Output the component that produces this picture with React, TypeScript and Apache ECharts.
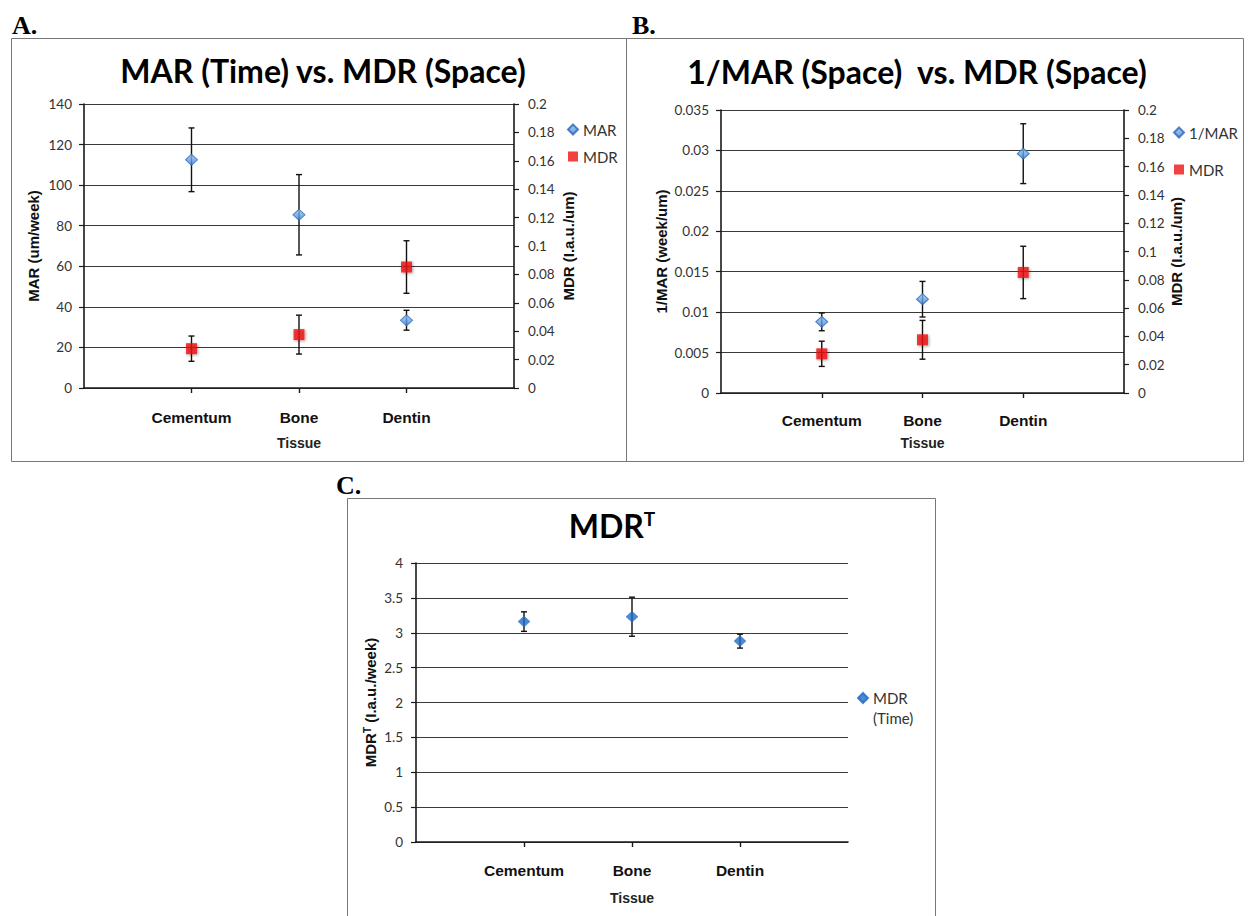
import React, { useEffect, useRef } from "react";
import * as echarts from "echarts";

// ---- data ----
const categories = ["Cementum", "Bone", "Dentin"];

// Panel A: MAR (Time) vs. MDR (Space)
const marValues = [112.5, 85.4, 33.4];
const marErrors = [15.7, 19.8, 4.9];
const mdrSpaceValues = [0.0277, 0.0376, 0.0852];
const mdrSpaceErrors = [0.0089, 0.0137, 0.0185];

// Panel B: 1/MAR (Space) vs. MDR (Space)
const invMarValues = [0.0088, 0.0116, 0.0296];
const invMarErrors = [0.0011, 0.0022, 0.0037];

// Panel C: MDR^T
const mdrTimeValues = [3.16, 3.23, 2.88];
const mdrTimeErrors = [0.14, 0.28, 0.1];

// axis ranges
const axisA = { leftMax: 140, leftStep: 20, rightMax: 0.2, rightStep: 0.02 };
const axisB = { leftMax: 0.035, leftStep: 0.005, rightMax: 0.2, rightStep: 0.02 };
const axisC = { leftMax: 4, leftStep: 0.5 };

const slots = ["", ...categories, ""];

const TICK_FONT = "Lato";
const BOLD_FONT = "Liberation Sans";

function xAxis(gridIndex: number, labelMargin: number, nameGap: number) {
  const show = (i: number) => i >= 1 && i <= 3;
  return {
    type: "category",
    gridIndex,
    data: slots,
    boundaryGap: false,
    axisLine: { show: true, lineStyle: { color: "#1a1a1a", width: 1.6 } },
    axisTick: { show: true, interval: show, length: 5, lineStyle: { color: "#1a1a1a", width: 1.4 } },
    axisLabel: {
      interval: show,
      margin: labelMargin,
      fontFamily: BOLD_FONT,
      fontWeight: "bold",
      fontSize: 15.5,
      color: "#111",
    },
    splitLine: { show: false },
    name: "Tissue",
    nameLocation: "middle",
    nameGap,
    nameTextStyle: { fontFamily: BOLD_FONT, fontWeight: "bold", fontSize: 14, color: "#222" },
  };
}

function yAxis(
  gridIndex: number,
  position: "left" | "right",
  max: number,
  interval: number,
  name: any,
  nameGap: number,
  labelMargin: number,
  split: boolean,
  rich?: any
) {
  return {
    type: "value",
    gridIndex,
    position,
    min: 0,
    max,
    interval,
    axisLine: { show: true, lineStyle: { color: "#1a1a1a", width: 1.6 } },
    axisTick: { show: true, length: 5, lineStyle: { color: "#1a1a1a", width: 1.2 } },
    axisLabel: { margin: labelMargin, fontFamily: TICK_FONT, fontSize: 13.5, color: "#333" },
    splitLine: { show: split, lineStyle: { color: "#3a3a3a", width: 1.1 } },
    name,
    nameLocation: "middle",
    nameGap,
    nameRotate: 90,
    nameTextStyle: {
      fontFamily: BOLD_FONT,
      fontWeight: "bold",
      fontSize: 15,
      color: "#111",
      rich,
    },
  };
}

function errorSeries(xAxisIndex: number, yAxisIndex: number, means: number[], errs: number[]) {
  return {
    type: "custom",
    xAxisIndex,
    yAxisIndex,
    silent: true,
    z: 2,
    encode: { x: 0, y: [1, 2] },
    data: means.map((m, i) => [i + 1, m - errs[i], m + errs[i]]),
    renderItem: (params: any, api: any) => {
      const x = api.value(0);
      const lo = api.coord([x, api.value(1)]);
      const hi = api.coord([x, api.value(2)]);
      const c = 3;
      const st = { stroke: "#111", lineWidth: 1.4 };
      return {
        type: "group",
        children: [
          { type: "line", shape: { x1: lo[0], y1: lo[1], x2: hi[0], y2: hi[1] }, style: st },
          { type: "line", shape: { x1: lo[0] - c, y1: lo[1], x2: lo[0] + c, y2: lo[1] }, style: st },
          { type: "line", shape: { x1: hi[0] - c, y1: hi[1], x2: hi[0] + c, y2: hi[1] }, style: st },
        ],
      };
    },
  };
}

const diamondStyle = {
  color: {
    type: "linear",
    x: 0,
    y: 0,
    x2: 0,
    y2: 1,
    colorStops: [
      { offset: 0, color: "#8fc0f0" },
      { offset: 1, color: "#3f86d6" },
    ],
  },
  borderColor: "#2a67b5",
  borderWidth: 1,
};
const squareStyle = {
  color: "#ee1111",
  shadowBlur: 3,
  shadowColor: "rgba(0,0,0,0.45)",
  shadowOffsetX: 1,
  shadowOffsetY: 1,
};

function scatter(name: string, xAxisIndex: number, yAxisIndex: number, values: number[], kind: string) {
  const isDiamond = kind !== "square";
  return {
    type: "scatter",
    name,
    xAxisIndex,
    yAxisIndex,
    z: 3,
    symbol: isDiamond ? "diamond" : "rect",
    symbolSize: isDiamond ? [12, 11] : [11, 11],
    itemStyle:
      kind === "square"
        ? squareStyle
        : kind === "dark"
        ? { color: "#1f6cc4", borderColor: "#1f6cc4", borderWidth: 0.5 }
        : diamondStyle,
    data: values.map((v, i) => [i + 1, v]),
  };
}

const superRich = {
  m: { fontFamily: BOLD_FONT, fontWeight: "bold", fontSize: 15, color: "#111" },
  t: { fontFamily: BOLD_FONT, fontWeight: "bold", fontSize: 10, color: "#111", verticalAlign: "top", padding: [0, 0, 6, 0] },
};

export default function App() {
  const ref = useRef<HTMLDivElement>(null);
  useEffect(() => {
    if (!ref.current) return;
    const chart = echarts.init(ref.current, undefined, { renderer: "svg" });
    const titleStyle = { fontFamily: "Lato", fontWeight: "bold", fontSize: 32, color: "#000" };
    const legendText = { fontFamily: "Lato", fontSize: 15, color: "#333" };
    chart.setOption({
      animation: false,
      backgroundColor: "#fff",
      title: [
        { text: "MAR (Time) vs. MDR (Space)", left: 323, top: 54, textAlign: "center", padding: 0, textStyle: titleStyle },
        { text: "1/MAR (Space)  vs. MDR (Space)", left: 917, top: 55, textAlign: "center", padding: 0, textStyle: titleStyle },
        {
          text: "{m|MDR}{t|T}",
          left: 612,
          top: 509,
          textAlign: "center",
          padding: 0,
          textStyle: {
            ...titleStyle,
            rich: {
              m: { fontFamily: "Lato", fontWeight: "bold", fontSize: 32, color: "#000" },
              t: { fontFamily: "Lato", fontWeight: "bold", fontSize: 19, color: "#000", verticalAlign: "top", padding: [0, 0, 12, 0] },
            },
          },
        },
      ],
      legend: [
        {
          orient: "vertical",
          left: 567,
          top: 122,
          padding: 0,
          itemWidth: 10,
          itemHeight: 10,
          itemGap: 12,
          textStyle: legendText,
          data: [
            { name: "MAR", icon: "diamond" },
            { name: "MDR", icon: "rect" },
          ],
        },
        {
          orient: "vertical",
          left: 1173,
          top: 125,
          padding: 0,
          itemWidth: 10,
          itemHeight: 10,
          itemGap: 22,
          textStyle: legendText,
          data: [
            { name: "1/MAR", icon: "diamond" },
            { name: "MDR", icon: "rect" },
          ],
        },
        {
          orient: "vertical",
          left: 857,
          top: 668,
          padding: 0,
          itemWidth: 10,
          itemHeight: 10,
          formatter: () => " \nMDR\n(Time)",
          textStyle: { ...legendText, lineHeight: 20 },
          data: [{ name: "MDR (Time)", icon: "diamond" }],
        },
      ],
      grid: [
        { left: 84, top: 104, width: 430, height: 284 },
        { left: 721, top: 110, width: 403, height: 283 },
        { left: 416, top: 563, width: 432, height: 279 },
      ],
      xAxis: [xAxis(0, 21, 48), xAxis(1, 19, 43), xAxis(2, 20, 49)],
      yAxis: [
        yAxis(0, "left", axisA.leftMax, axisA.leftStep, "MAR (um/week)", 43, 12, true),
        yAxis(0, "right", axisA.rightMax, axisA.rightStep, "MDR (I.a.u./um)", 47, 14, false),
        yAxis(1, "left", axisB.leftMax, axisB.leftStep, "1/MAR (week/um)", 52, 12, true),
        yAxis(1, "right", axisB.rightMax, axisB.rightStep, "MDR (I.a.u./um)", 45, 14, false),
        yAxis(2, "left", axisC.leftMax, axisC.leftStep, "{m|MDR}{t|T}{m| (I.a.u./week)}", 38, 13, true, superRich),
      ],
      series: [
        errorSeries(0, 0, marValues, marErrors),
        errorSeries(0, 1, mdrSpaceValues, mdrSpaceErrors),
        scatter("MAR", 0, 0, marValues, "diamond"),
        scatter("MDR", 0, 1, mdrSpaceValues, "square"),
        errorSeries(1, 2, invMarValues, invMarErrors),
        errorSeries(1, 3, mdrSpaceValues, mdrSpaceErrors),
        scatter("1/MAR", 1, 2, invMarValues, "diamond"),
        scatter("MDR", 1, 3, mdrSpaceValues, "square"),
        errorSeries(2, 4, mdrTimeValues, mdrTimeErrors),
        scatter("MDR (Time)", 2, 4, mdrTimeValues, "dark"),
      ],
      graphic: [
        { type: "rect", shape: { x: 11.5, y: 38.5, width: 615, height: 423 }, style: { fill: "none", stroke: "#777", lineWidth: 1 }, silent: true },
        { type: "rect", shape: { x: 626.5, y: 38.5, width: 617, height: 423 }, style: { fill: "none", stroke: "#777", lineWidth: 1 }, silent: true },
        { type: "rect", shape: { x: 347.5, y: 498.5, width: 588, height: 440 }, style: { fill: "none", stroke: "#777", lineWidth: 1 }, silent: true },
        { type: "text", x: 12, y: 12, style: { text: "A.", font: "bold 26px 'Liberation Serif'", fill: "#000" }, silent: true },
        { type: "text", x: 632, y: 12, style: { text: "B.", font: "bold 26px 'Liberation Serif'", fill: "#000" }, silent: true },
        { type: "text", x: 336, y: 472, style: { text: "C.", font: "bold 26px 'Liberation Serif'", fill: "#000" }, silent: true },
      ],
    });
    return () => chart.dispose();
  }, []);
  return (
    <div
      ref={ref}
      style={{ position: "absolute", left: 0, top: 0, width: 1248, height: 916, background: "#fff" }}
    />
  );
}
